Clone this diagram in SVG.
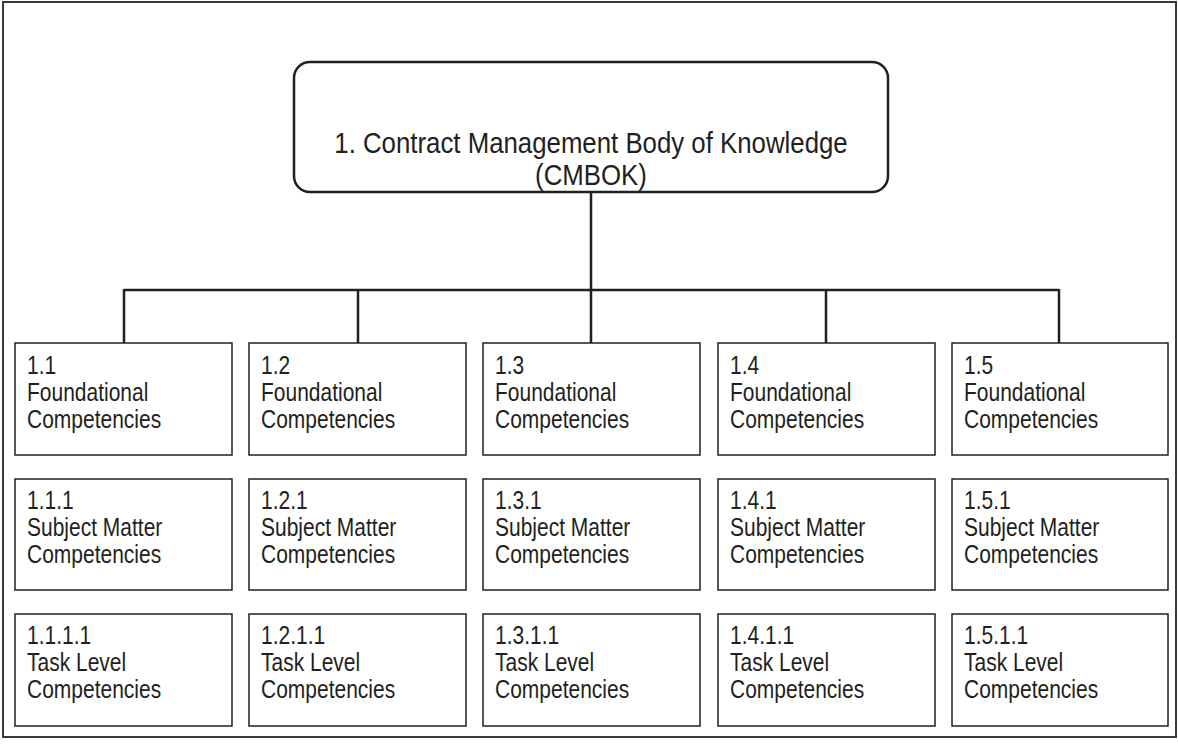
<svg xmlns="http://www.w3.org/2000/svg" width="1178" height="749" viewBox="0 0 1178 749">
<style>
.frame{fill:none;stroke:#3a3a3a;stroke-width:2}
.root{fill:#fff;stroke:#231f20;stroke-width:2.5}
.box{fill:#fff;stroke:#231f20;stroke-width:1.5}
.conn{fill:none;stroke:#231f20;stroke-width:2.5}
text{font-family:"Liberation Sans",Arial,sans-serif;fill:#231f20}
.t{font-size:25px}
.h{font-size:29px;text-anchor:middle}
</style>
<rect width="1178" height="749" fill="#fff"/>
<rect class="frame" x="3" y="2" width="1173" height="735"/>
<g id="connectors">
<path class="conn" d="M591 192V290M124 290H1059M124 289V343M358 289V343M591 289V343M826 289V343M1059 289V343"/>
</g>
<g id="n1">
<rect class="root" x="294" y="62" width="594" height="130" rx="16"/>
<text class="h" transform="translate(591 0) scale(0.89 1)"><tspan x="0" y="153">1. Contract Management Body of Knowledge</tspan><tspan x="0" y="185">(CMBOK)</tspan></text>
</g>
<g id="n1_1"><rect class="box" x="15" y="343" width="217" height="112"/><text class="t" transform="translate(27 0) scale(0.84 1)"><tspan x="0" y="374">1.1</tspan><tspan x="0" y="401">Foundational</tspan><tspan x="0" y="428">Competencies</tspan></text></g>
<g id="n1_2"><rect class="box" x="249" y="343" width="217" height="112"/><text class="t" transform="translate(261 0) scale(0.84 1)"><tspan x="0" y="374">1.2</tspan><tspan x="0" y="401">Foundational</tspan><tspan x="0" y="428">Competencies</tspan></text></g>
<g id="n1_3"><rect class="box" x="483" y="343" width="217" height="112"/><text class="t" transform="translate(495 0) scale(0.84 1)"><tspan x="0" y="374">1.3</tspan><tspan x="0" y="401">Foundational</tspan><tspan x="0" y="428">Competencies</tspan></text></g>
<g id="n1_4"><rect class="box" x="718" y="343" width="217" height="112"/><text class="t" transform="translate(730 0) scale(0.84 1)"><tspan x="0" y="374">1.4</tspan><tspan x="0" y="401">Foundational</tspan><tspan x="0" y="428">Competencies</tspan></text></g>
<g id="n1_5"><rect class="box" x="952" y="343" width="216" height="112"/><text class="t" transform="translate(964 0) scale(0.84 1)"><tspan x="0" y="374">1.5</tspan><tspan x="0" y="401">Foundational</tspan><tspan x="0" y="428">Competencies</tspan></text></g>
<g id="n1_1_1"><rect class="box" x="15" y="479" width="217" height="111"/><text class="t" transform="translate(27 0) scale(0.84 1)"><tspan x="0" y="509">1.1.1</tspan><tspan x="0" y="536">Subject Matter</tspan><tspan x="0" y="563">Competencies</tspan></text></g>
<g id="n1_2_1"><rect class="box" x="249" y="479" width="217" height="111"/><text class="t" transform="translate(261 0) scale(0.84 1)"><tspan x="0" y="509">1.2.1</tspan><tspan x="0" y="536">Subject Matter</tspan><tspan x="0" y="563">Competencies</tspan></text></g>
<g id="n1_3_1"><rect class="box" x="483" y="479" width="217" height="111"/><text class="t" transform="translate(495 0) scale(0.84 1)"><tspan x="0" y="509">1.3.1</tspan><tspan x="0" y="536">Subject Matter</tspan><tspan x="0" y="563">Competencies</tspan></text></g>
<g id="n1_4_1"><rect class="box" x="718" y="479" width="217" height="111"/><text class="t" transform="translate(730 0) scale(0.84 1)"><tspan x="0" y="509">1.4.1</tspan><tspan x="0" y="536">Subject Matter</tspan><tspan x="0" y="563">Competencies</tspan></text></g>
<g id="n1_5_1"><rect class="box" x="952" y="479" width="216" height="111"/><text class="t" transform="translate(964 0) scale(0.84 1)"><tspan x="0" y="509">1.5.1</tspan><tspan x="0" y="536">Subject Matter</tspan><tspan x="0" y="563">Competencies</tspan></text></g>
<g id="n1_1_1_1"><rect class="box" x="15" y="614" width="217" height="112"/><text class="t" transform="translate(27 0) scale(0.84 1)"><tspan x="0" y="644">1.1.1.1</tspan><tspan x="0" y="671">Task Level</tspan><tspan x="0" y="698">Competencies</tspan></text></g>
<g id="n1_2_1_1"><rect class="box" x="249" y="614" width="217" height="112"/><text class="t" transform="translate(261 0) scale(0.84 1)"><tspan x="0" y="644">1.2.1.1</tspan><tspan x="0" y="671">Task Level</tspan><tspan x="0" y="698">Competencies</tspan></text></g>
<g id="n1_3_1_1"><rect class="box" x="483" y="614" width="217" height="112"/><text class="t" transform="translate(495 0) scale(0.84 1)"><tspan x="0" y="644">1.3.1.1</tspan><tspan x="0" y="671">Task Level</tspan><tspan x="0" y="698">Competencies</tspan></text></g>
<g id="n1_4_1_1"><rect class="box" x="718" y="614" width="217" height="112"/><text class="t" transform="translate(730 0) scale(0.84 1)"><tspan x="0" y="644">1.4.1.1</tspan><tspan x="0" y="671">Task Level</tspan><tspan x="0" y="698">Competencies</tspan></text></g>
<g id="n1_5_1_1"><rect class="box" x="952" y="614" width="216" height="112"/><text class="t" transform="translate(964 0) scale(0.84 1)"><tspan x="0" y="644">1.5.1.1</tspan><tspan x="0" y="671">Task Level</tspan><tspan x="0" y="698">Competencies</tspan></text></g>
</svg>
